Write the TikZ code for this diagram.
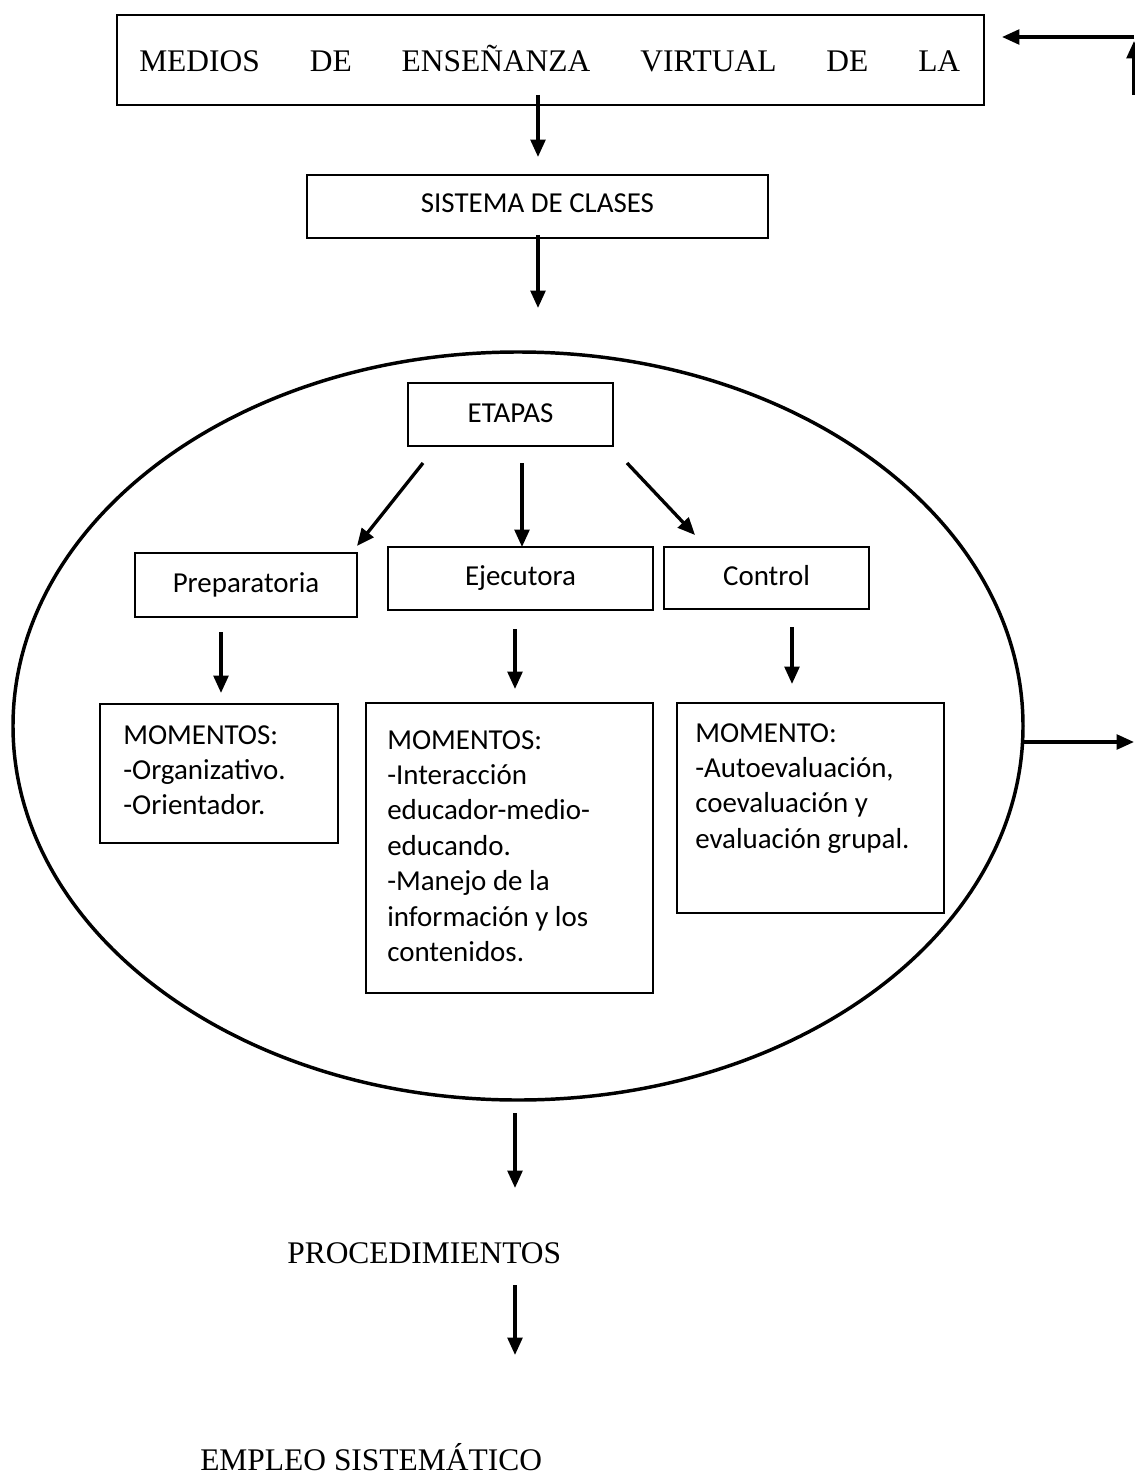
\documentclass[tikz,border=0pt]{standalone}
\usepackage{fontspec}
\setmainfont{Carlito}
\newfontfamily\tnrfont{Liberation Serif}
\usetikzlibrary{shapes.geometric,arrows.meta,fit}
\begin{document}
\begin{tikzpicture}[x=0.75pt,y=-0.75pt,
  box/.style={draw, line width=1.15pt, inner sep=0pt, outer sep=0pt},
  cal/.style={font=\fontsize{21.7}{26.6}\selectfont, inner sep=0pt},
  tnr/.style={font=\tnrfont\fontsize{23.6}{28}\selectfont, inner sep=0pt},
  arr/.style={line width=2.5pt, -{Triangle[length=13pt,width=11pt]}}]
\fill[white] (0,0) rectangle (1134,1476);
\useasboundingbox (0,0) rectangle (1134,1476);

% top box
\node[box, fit={(117,15)(984,105)}] (medios) {};
\node[tnr, anchor=base west] (mediostxt) at (139,72)
  {\hbox to 615.75pt{MEDIOS\hfill DE\hfill ENSEÑANZA\hfill VIRTUAL\hfill DE\hfill LA}};

% sistema
\node[box, fit={(307,175)(768,238)}] (sistema) {};
\node[cal, anchor=base] (sistematxt) at (537.5,213) {SISTEMA DE CLASES};

% ellipse
\node[draw, ellipse, line width=2.6pt, inner sep=0pt, minimum width=757.5pt, minimum height=561pt] (elipse) at (518,726) {};

% etapas
\node[box, fit={(408,383)(613,446)}] (etapas) {};
\node[cal, anchor=base] (etapastxt) at (510.5,422) {ETAPAS};

\node[box, fit={(135,553)(357,617)}] (prep) {};
\node[cal, anchor=base] (preptxt) at (246,592) {Preparatoria};
\node[box, fit={(388,547)(653,610)}] (ejec) {};
\node[cal, anchor=base] (ejectxt) at (520.5,585) {Ejecutora};
\node[box, fit={(664,547)(869,609)}] (ctrl) {};
\node[cal, anchor=base] (ctrltxt) at (766.5,585) {Control};

\node[box, fit={(100,704)(338,843)}] (mom1) {};
\node[cal, anchor=base west] (mom1txt) at (123,744)
  {\vtop{\hbox{MOMENTOS:}\hbox{-Organizativo.}\hbox{-Orientador.}}};
\node[box, fit={(366,703)(653,993)}] (mom2) {};
\node[cal, anchor=base west] (mom2txt) at (387,749)
  {\vtop{\hbox{MOMENTOS:}\hbox{-Interacción}\hbox{educador-medio-}\hbox{educando.}\hbox{-Manejo de la}\hbox{información y los}\hbox{contenidos.}}};
\node[box, fit={(677,703)(944,913)}] (mom3) {};
\node[cal, anchor=base west] (mom3txt) at (695,742)
  {\vtop{\hbox{MOMENTO:}\hbox{-Autoevaluación,}\hbox{coevaluación y}\hbox{evaluación grupal.}}};

\node[tnr, anchor=base west] (proc) at (287,1263) {PROCEDIMIENTOS};
\node[tnr, anchor=base west] (empleo) at (200,1470) {EMPLEO SISTEMÁTICO};

% arrow end points
\coordinate (a1s) at (538,95);   \coordinate (a1e) at (538,157);
\coordinate (a2s) at (538,235);  \coordinate (a2e) at (538,308);
\coordinate (a3s) at (423,463);  \coordinate (a3e) at (357,546);
\coordinate (a4s) at (522,463);  \coordinate (a4e) at (522,547);
\coordinate (a5s) at (627,463);  \coordinate (a5e) at (695,535);
\coordinate (a6s) at (221,632);  \coordinate (a6e) at (221,693);
\coordinate (a7s) at (515,629);  \coordinate (a7e) at (515,689);
\coordinate (a8s) at (792,627);  \coordinate (a8e) at (792,684);
\coordinate (a9s) at (1022,742); \coordinate (a9e) at (1134,742);
\coordinate (a10s) at (1134,37); \coordinate (a10e) at (1002,37);
\coordinate (a11s) at (1134,95); \coordinate (a11e) at (1134,41);
\coordinate (a12s) at (515,1113); \coordinate (a12e) at (515,1188);
\coordinate (a13s) at (515,1285); \coordinate (a13e) at (515,1355);

\draw[arr] (a1s) -- (a1e);
\draw[arr] (a2s) -- (a2e);
\draw[arr] (a3s) -- (a3e);
\draw[arr] (a4s) -- (a4e);
\draw[arr] (a5s) -- (a5e);
\draw[arr] (a6s) -- (a6e);
\draw[arr] (a7s) -- (a7e);
\draw[arr] (a8s) -- (a8e);
\draw[arr] (a9s) -- (a9e);
\draw[arr] (a10s) -- (a10e);
\draw[arr] (a11s) -- (a11e);
\draw[arr] (a12s) -- (a12e);
\draw[arr] (a13s) -- (a13e);
\end{tikzpicture}
\end{document}
